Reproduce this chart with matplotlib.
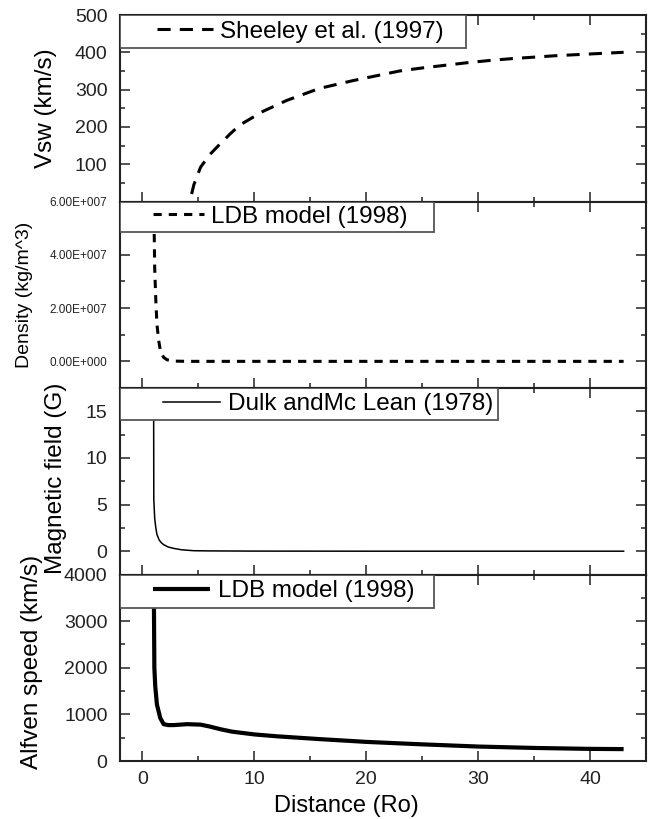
import matplotlib
matplotlib.use('Agg')
import matplotlib.pyplot as plt
import matplotlib.patches as patches
from matplotlib.ticker import MultipleLocator, FixedLocator
import numpy as np

plt.rcParams['font.family'] = ['Liberation Sans', 'DejaVu Sans']

##### data #####
# solar wind speed, Sheeley et al. (1997)
vsw_r = [4.4, 4.6, 5.2, 6.0, 6.9, 7.8, 8.7, 10.8, 12.9, 15.8, 18.8, 20.9, 23, 25, 27, 29, 31, 33, 35, 37, 39, 41, 43]
vsw_v = [20, 45, 92, 125, 153, 180, 205, 242, 271, 303, 324, 337, 350, 358, 365, 372, 378, 383, 387, 391, 394, 397, 400]

# density, LDB model (1998)
dens_r = [1.0, 1.1, 1.2, 1.3, 1.45, 1.6, 1.75, 1.9, 2.2, 2.8, 4, 10, 20, 30, 43]
dens_v = [6.5e7, 3.5e7, 2.3e7, 1.4e7, 0.8e7, 0.42e7, 0.25e7, 0.15e7, 0.06e7, 0.01e7, 0, 0, 0, 0, 0]
dens_ticks = [0, 2e7, 4e7, 6e7]
dens_ticklabels = ['0.00E+000', '2.00E+007', '4.00E+007', '6.00E+007']

# magnetic field, Dulk and Mc Lean (1978)
bfield_r = [1.0, 1.02, 1.1, 1.2, 1.3, 1.5, 1.7, 1.9, 2.3, 2.8, 3.5, 4.6, 6, 10, 20, 30, 43]
bfield_v = [20, 5.6, 3.5, 2.5, 1.8, 1.2, 0.9, 0.7, 0.45, 0.3, 0.15, 0.05, 0.03, 0.01, 0, 0, 0]

# Alfven speed, LDB model (1998)
va_r = [1.0, 1.07, 1.15, 1.3, 1.6, 1.9, 2.3, 2.8, 4, 5.2, 6, 7, 8, 10, 12, 15.8, 20, 24.7, 30, 35, 40, 43]
va_v = [4500, 2000, 1600, 1210, 920, 790, 770, 770, 790, 780, 740, 680, 630, 570, 530, 470, 410, 360, 310, 280, 260, 255]

labels = ['Sheeley et al. (1997)', 'LDB model (1998)', 'Dulk andMc Lean (1978)', 'LDB model (1998)']

##### figure #####
fig = plt.figure(figsize=(6.49, 8.19), dpi=100)
L = 120/649.; R = 646/649.; T = 1-15/819.; B = 1-761/819.
h = (T-B)/4
axs = []
for i in range(4):
    if i == 0:
        ax = fig.add_axes([L, T-(i+1)*h, R-L, h])
    else:
        ax = fig.add_axes([L, T-(i+1)*h, R-L, h], sharex=axs[0])
    axs.append(ax)

ax1, ax2, ax3, ax4 = axs
ax1.plot(vsw_r, vsw_v, color='black', lw=2.2, dashes=(4.3, 3), label=labels[0])
ax2.plot(dens_r, dens_v, color='black', lw=2.2, dashes=(2.7, 2.3), label=labels[1])
ax3.plot(bfield_r, bfield_v, color='black', lw=1.1, label=labels[2])
ax4.plot(va_r, va_v, color='black', lw=3, solid_capstyle='butt', label=labels[3])

ax1.set_ylim(0, 500)
ax1.yaxis.set_major_locator(FixedLocator([100, 200, 300, 400, 500]))
ax1.yaxis.set_minor_locator(MultipleLocator(50))
ax2.set_ylim(-1e7, 6e7)
ax2.set_yticks(dens_ticks)
ax2.set_yticklabels(dens_ticklabels)
ax2.yaxis.set_minor_locator(MultipleLocator(1e7))
ax3.set_ylim(-2.5, 17.5)
ax3.yaxis.set_major_locator(FixedLocator([0, 5, 10, 15]))
ax3.yaxis.set_minor_locator(MultipleLocator(2.5))
ax4.set_ylim(0, 4000)
ax4.yaxis.set_major_locator(MultipleLocator(1000))
ax4.yaxis.set_minor_locator(MultipleLocator(500))

ax4.set_xlim(-2, 45)
ax4.xaxis.set_major_locator(MultipleLocator(10))
ax4.xaxis.set_minor_locator(MultipleLocator(5))

for ax in axs:
    ax.tick_params(which='both', direction='in', top=True, right=True, colors='#222222', width=1.1)
    ax.tick_params(which='major', length=7.2)
    ax.tick_params(which='minor', length=3.6)
    ax.tick_params(axis='y', which='major', labelsize=14, pad=9)
    ax.tick_params(axis='x', which='major', labelsize=14, pad=7)
    for sp in ax.spines.values():
        sp.set_linewidth(1.5); sp.set_color('#222222')
    if ax is not ax4:
        ax.tick_params(axis='x', labelbottom=False)
ax2.tick_params(axis='y', which='major', labelsize=8.5, pad=9)

#legend boxes (x of handle, box width, box height) in axes fraction
box_w = [0.658, 0.597, 0.719, 0.597]
box_h = [0.177, 0.166, 0.172, 0.177]
hand_x = [0.070, 0.063, 0.082, 0.063]
hand_len = [2.3, 2.1, 2.35, 2.35]
for i, ax in enumerate(axs):
    ax.add_patch(patches.Rectangle((0, 1-box_h[i]), box_w[i], box_h[i], transform=ax.transAxes,
                                   facecolor='white', edgecolor='#555555', lw=1.3, zorder=3))
    leg = ax.legend(loc='center left', bbox_to_anchor=(hand_x[i], 1-box_h[i]/2), frameon=False,
                    fontsize=17.5, borderpad=0, borderaxespad=0, handlelength=hand_len[i], handletextpad=0.3)
    leg.set_zorder(5)

ax1.set_ylabel('Vsw (km/s)', fontsize=17.5)
ax1.yaxis.set_label_coords(-0.120, 0.5)
ax2.set_ylabel('Density (kg/m^3)', fontsize=14)
ax2.yaxis.set_label_coords(-0.165, 0.5)
ax3.set_ylabel('Magnetic field (G)', fontsize=17.5)
ax3.yaxis.set_label_coords(-0.101, 0.516)
ax4.set_ylabel('Alfven speed (km/s)', fontsize=17.5)
ax4.yaxis.set_label_coords(-0.146, 0.53)
ax4.set_xlabel('Distance (Ro)', fontsize=17)
ax4.xaxis.set_label_coords(0.43, -0.18)

plt.savefig('out.png', dpi=100)
